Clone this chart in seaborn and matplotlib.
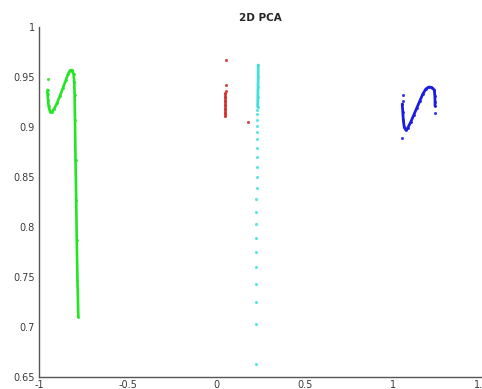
import numpy as np
import pandas as pd
import matplotlib
matplotlib.use("Agg")
import matplotlib.pyplot as plt
import seaborn as sns

# Projected samples per cluster: a dense trace plus a few stray points
green_x = [-0.952, -0.952, -0.949, -0.946, -0.938, -0.927, -0.915, -0.898, -0.882,
           -0.865, -0.848, -0.836, -0.825, -0.814, -0.805, -0.801, -0.799, -0.797,
           -0.794, -0.790, -0.787, -0.783, -0.778]
green_y = [0.937, 0.933, 0.927, 0.921, 0.9155, 0.915, 0.918, 0.924, 0.931,
           0.939, 0.947, 0.953, 0.9565, 0.957, 0.953, 0.945, 0.932, 0.907,
           0.867, 0.827, 0.787, 0.747, 0.710]
green_pts_x = [-0.949]
green_pts_y = [0.948]

red_x = [0.052, 0.052, 0.052, 0.052, 0.052, 0.052, 0.052]
red_y = [0.934, 0.930, 0.926, 0.922, 0.918, 0.914, 0.911]
red_pts_x = [0.055, 0.054, 0.054, 0.180]
red_pts_y = [0.967, 0.942, 0.936, 0.905]

cyan_x = [0.237, 0.237, 0.236, 0.235, 0.234]
cyan_y = [0.962, 0.950, 0.940, 0.930, 0.920]
cyan_pts_x = [0.233, 0.233, 0.232, 0.232, 0.231, 0.231, 0.230, 0.230, 0.229, 0.228,
              0.228, 0.227, 0.227, 0.226, 0.226, 0.225, 0.225, 0.224, 0.223, 0.223,
              0.222]
cyan_pts_y = [0.917, 0.913, 0.907, 0.901, 0.895, 0.888, 0.879, 0.870, 0.860, 0.850,
              0.839, 0.828, 0.815, 0.803, 0.789, 0.775, 0.760, 0.743, 0.725, 0.703,
              0.663]

blue_x = [1.050, 1.053, 1.056, 1.061, 1.070, 1.081, 1.098, 1.115, 1.132, 1.149,
          1.166, 1.183, 1.200, 1.217, 1.231, 1.234, 1.235, 1.235]
blue_y = [0.923, 0.915, 0.907, 0.900, 0.897, 0.899, 0.905, 0.912, 0.919, 0.926,
          0.933, 0.938, 0.940, 0.9395, 0.937, 0.931, 0.925, 0.921]
blue_pts_x = [1.053, 1.053, 1.050, 1.236]
blue_pts_y = [0.932, 0.9265, 0.8895, 0.914]

x_ticks = [-1, -0.5, 0, 0.5, 1, 1.5]
x_labels = ["-1", "-0.5", "0", "0.5", "1", "1.5"]
y_ticks = [0.65, 0.7, 0.75, 0.8, 0.85, 0.9, 0.95, 1.0]
y_labels = ["0.65", "0.7", "0.75", "0.8", "0.85", "0.9", "0.95", "1"]

sns.set_style("white")
plt.rcParams["font.family"] = ["DejaVu Sans"]

fig = plt.figure(figsize=(4.82, 3.89), dpi=100)
ax = fig.add_axes([39 / 482, 12 / 389, 443 / 482, 350 / 389])

clusters = [
    (green_x, green_y, green_pts_x, green_pts_y, "#22e622", 1.9),
    (red_x, red_y, red_pts_x, red_pts_y, "#d42a2a", 1.8),
    (cyan_x, cyan_y, cyan_pts_x, cyan_pts_y, "#40e0e0", 2.0),
    (blue_x, blue_y, blue_pts_x, blue_pts_y, "#1c1ce0", 2.0),
]
for tx, ty, px, py, col, lw in clusters:
    trace = pd.DataFrame({"x": tx, "y": ty})
    sns.lineplot(data=trace, x="x", y="y", sort=False, estimator=None,
                 color=col, linewidth=lw, ax=ax)
    sns.scatterplot(data=trace, x="x", y="y", color=col, s=4,
                    linewidth=0, ax=ax)
    pts = pd.DataFrame({"x": px, "y": py})
    sns.scatterplot(data=pts, x="x", y="y", color=col, s=5, alpha=0.85,
                    linewidth=0, ax=ax)

ax.set_xlim(-1, 1.5)
ax.set_ylim(0.65, 1.0)
ax.set_xticks(x_ticks)
ax.set_xticklabels(x_labels)
ax.set_yticks(y_ticks)
ax.set_yticklabels(y_labels)
ax.set_xlabel("")
ax.set_ylabel("")
ax.tick_params(direction="in", length=4, width=0.8, colors="#444444",
               labelsize=7, labelcolor="#3a3a3a", pad=3)
ax.tick_params(axis="x", pad=2)
for side in ["top", "right"]:
    ax.spines[side].set_visible(False)
for side in ["left", "bottom"]:
    ax.spines[side].set_color("#555555")
    ax.spines[side].set_linewidth(1.0)
ax.set_title("2D PCA", fontsize=7.5, fontweight="bold", pad=4)

fig.savefig("out.png", dpi=100)
